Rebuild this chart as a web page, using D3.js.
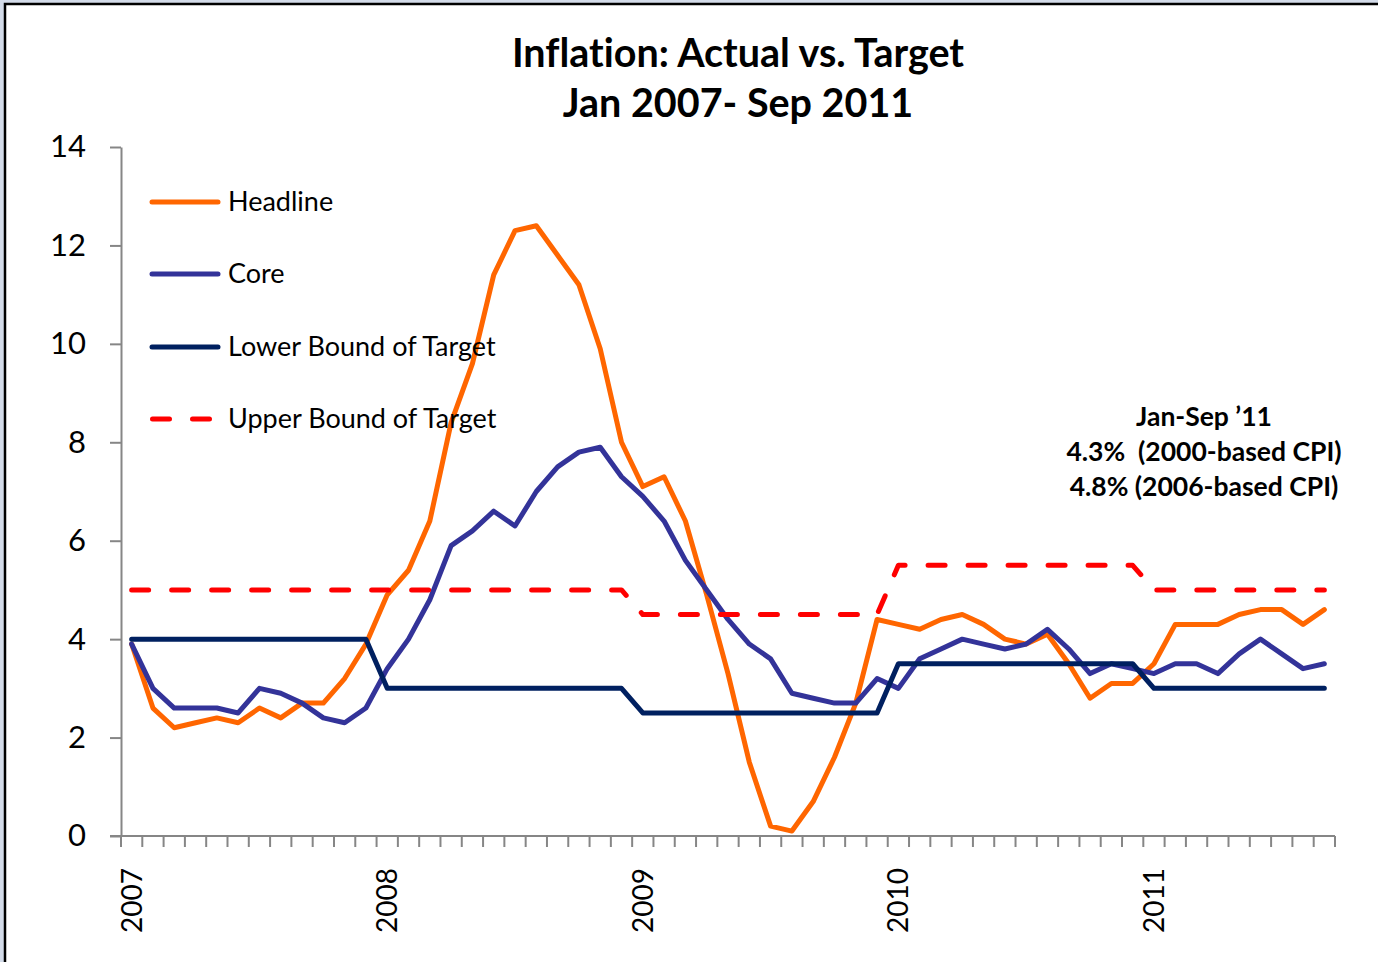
<!DOCTYPE html>
<html>
<head>
<meta charset="utf-8">
<script src="https://cdn.jsdelivr.net/npm/d3@7"></script>
<style>
  body { margin: 0; background: #fff; }
  text { font-family: Lato, "Open Sans", sans-serif; fill: #000; font-variant-ligatures: none; }
</style>
</head>
<body>
<svg id="chart" width="1378" height="962"></svg>
<script>
// months Jan 2007 .. Sep 2011
const months = [
  '2007-01','2007-02','2007-03','2007-04','2007-05','2007-06','2007-07','2007-08','2007-09','2007-10','2007-11','2007-12',
  '2008-01','2008-02','2008-03','2008-04','2008-05','2008-06','2008-07','2008-08','2008-09','2008-10','2008-11','2008-12',
  '2009-01','2009-02','2009-03','2009-04','2009-05','2009-06','2009-07','2009-08','2009-09','2009-10','2009-11','2009-12',
  '2010-01','2010-02','2010-03','2010-04','2010-05','2010-06','2010-07','2010-08','2010-09','2010-10','2010-11','2010-12',
  '2011-01','2011-02','2011-03','2011-04','2011-05','2011-06','2011-07','2011-08','2011-09'
];

const headline = [
  3.9, 2.6, 2.2, 2.3, 2.4, 2.3, 2.6, 2.4, 2.7, 2.7, 3.2, 3.9,
  4.9, 5.4, 6.4, 8.4, 9.6, 11.4, 12.3, 12.4, 11.8, 11.2, 9.9, 8.0,
  7.1, 7.3, 6.4, 4.9, 3.3, 1.5, 0.2, 0.1, 0.7, 1.6, 2.7, 4.4,
  4.3, 4.2, 4.4, 4.5, 4.3, 4.0, 3.9, 4.1, 3.5, 2.8, 3.1, 3.1,
  3.5, 4.3, 4.3, 4.3, 4.5, 4.6, 4.6, 4.3, 4.6
];

const core = [
  3.9, 3.0, 2.6, 2.6, 2.6, 2.5, 3.0, 2.9, 2.7, 2.4, 2.3, 2.6,
  3.4, 4.0, 4.8, 5.9, 6.2, 6.6, 6.3, 7.0, 7.5, 7.8, 7.9, 7.3,
  6.9, 6.4, 5.6, 5.0, 4.4, 3.9, 3.6, 2.9, 2.8, 2.7, 2.7, 3.2,
  3.0, 3.6, 3.8, 4.0, 3.9, 3.8, 3.9, 4.2, 3.8, 3.3, 3.5, 3.4,
  3.3, 3.5, 3.5, 3.3, 3.7, 4.0, 3.7, 3.4, 3.5
];

const lowerBound = [
  4, 4, 4, 4, 4, 4, 4, 4, 4, 4, 4, 4,
  3, 3, 3, 3, 3, 3, 3, 3, 3, 3, 3, 3,
  2.5, 2.5, 2.5, 2.5, 2.5, 2.5, 2.5, 2.5, 2.5, 2.5, 2.5, 2.5,
  3.5, 3.5, 3.5, 3.5, 3.5, 3.5, 3.5, 3.5, 3.5, 3.5, 3.5, 3.5,
  3, 3, 3, 3, 3, 3, 3, 3, 3
];

const upperBound = [
  5, 5, 5, 5, 5, 5, 5, 5, 5, 5, 5, 5,
  5, 5, 5, 5, 5, 5, 5, 5, 5, 5, 5, 5,
  4.5, 4.5, 4.5, 4.5, 4.5, 4.5, 4.5, 4.5, 4.5, 4.5, 4.5, 4.5,
  5.5, 5.5, 5.5, 5.5, 5.5, 5.5, 5.5, 5.5, 5.5, 5.5, 5.5, 5.5,
  5, 5, 5, 5, 5, 5, 5, 5, 5
];

const yTicks = [0, 2, 4, 6, 8, 10, 12, 14];
const seriesNames = ['Headline', 'Core', 'Lower Bound of Target', 'Upper Bound of Target'];
const titleLines = ['Inflation: Actual vs. Target', 'Jan 2007- Sep 2011'];
const noteLines = ['Jan-Sep \u201911', '4.3%  (2000-based CPI)', '4.8% (2006-based CPI)'];

const series = [
  { name: seriesNames[0], values: headline,   color: '#FF6600', dash: null },
  { name: seriesNames[1], values: core,       color: '#333399', dash: null },
  { name: seriesNames[2], values: lowerBound, color: '#002060', dash: null },
  { name: seriesNames[3], values: upperBound, color: '#FF0000', dash: '17,23' }
];

var svg = d3.select('#chart');

// outer frame
svg.append('rect').attr('width', 1378).attr('height', 962).attr('fill', '#d3dbe9');
svg.append('rect')
  .attr('x', 5).attr('y', 4).attr('width', 1400).attr('height', 1000)
  .attr('fill', '#fff').attr('stroke', '#000').attr('stroke-width', 2.5);

var x = d3.scaleBand().domain(months).range([121, 1335]).paddingInner(0).paddingOuter(0);
var y = d3.scaleLinear().domain([0, 14]).range([836, 147]);
var xc = function(m) { return x(m) + x.bandwidth() / 2; };

var axisColor = '#868686';

// y axis
var yAxis = svg.append('g')
  .attr('transform', 'translate(121,0)')
  .call(d3.axisLeft(y).tickValues(yTicks).tickSize(11).tickSizeOuter(0).tickPadding(24));
yAxis.select('.domain').attr('stroke', axisColor).attr('stroke-width', 2);
yAxis.selectAll('.tick line').attr('stroke', axisColor).attr('stroke-width', 2);
yAxis.selectAll('.tick text')
  .style('font-family', 'Lato, sans-serif').style('font-size', '31px').attr('fill', '#000');

// x axis: line + month boundary ticks
var xAxis = svg.append('g');
xAxis.append('line')
  .attr('x1', 110).attr('x2', 1335).attr('y1', y(0)).attr('y2', y(0))
  .attr('stroke', axisColor).attr('stroke-width', 2);
var bounds = months.map(function(m) { return x(m); }).concat([x.range()[1]]);
xAxis.selectAll('line.tick').data(bounds).enter().append('line')
  .attr('class', 'tick')
  .attr('x1', d => d).attr('x2', d => d)
  .attr('y1', y(0)).attr('y2', y(0) + 11)
  .attr('stroke', axisColor).attr('stroke-width', 2);

xAxis.selectAll('text.year').data(months.filter(m => m.slice(5) === '01')).enter().append('text')
  .attr('class', 'year')
  .attr('transform', d => 'translate(' + xc(d) + ',868) rotate(-90)')
  .attr('text-anchor', 'end')
  .attr('dy', '0.36em')
  .style('font-size', '28px')
  .text(d => d.slice(0, 4));

// series lines
var line = d3.line()
  .x(function(d, i) { return xc(months[i]); })
  .y(function(d) { return y(d); });

svg.append('g').selectAll('path').data(series).enter().append('path')
  .attr('d', d => line(d.values))
  .attr('fill', 'none')
  .attr('stroke', d => d.color)
  .attr('stroke-width', 5)
  .attr('stroke-linejoin', 'round')
  .attr('stroke-linecap', 'round')
  .attr('stroke-dasharray', d => d.dash);

// legend
var legendY = [202, 274, 347, 419];
var legend = svg.append('g').selectAll('g').data(series).enter().append('g')
  .attr('transform', (d, i) => 'translate(0,' + legendY[i] + ')');
legend.append('line')
  .attr('x1', d => d.dash ? 152.5 : 152).attr('x2', 218)
  .attr('stroke', d => d.color).attr('stroke-width', 5)
  .attr('stroke-linecap', 'round')
  .attr('stroke-dasharray', d => d.dash);
legend.append('text')
  .attr('x', 228).attr('y', 9)
  .style('font-size', '27px')
  .text(d => d.name);

// title
svg.append('g').selectAll('text').data(titleLines).enter().append('text')
  .attr('x', 738).attr('y', (d, i) => 67 + i * 50)
  .attr('text-anchor', 'middle')
  .style('font-size', '39.5px').style('font-weight', 'bold')
  .text(d => d);

// annotation
svg.append('g').selectAll('text').data(noteLines).enter().append('text')
  .attr('x', 1204).attr('y', (d, i) => 426 + i * 35)
  .attr('text-anchor', 'middle')
  .style('font-size', '26.5px').style('font-weight', 'bold')
  .style('white-space', 'pre')
  .text(d => d);
</script>
</body>
</html>
